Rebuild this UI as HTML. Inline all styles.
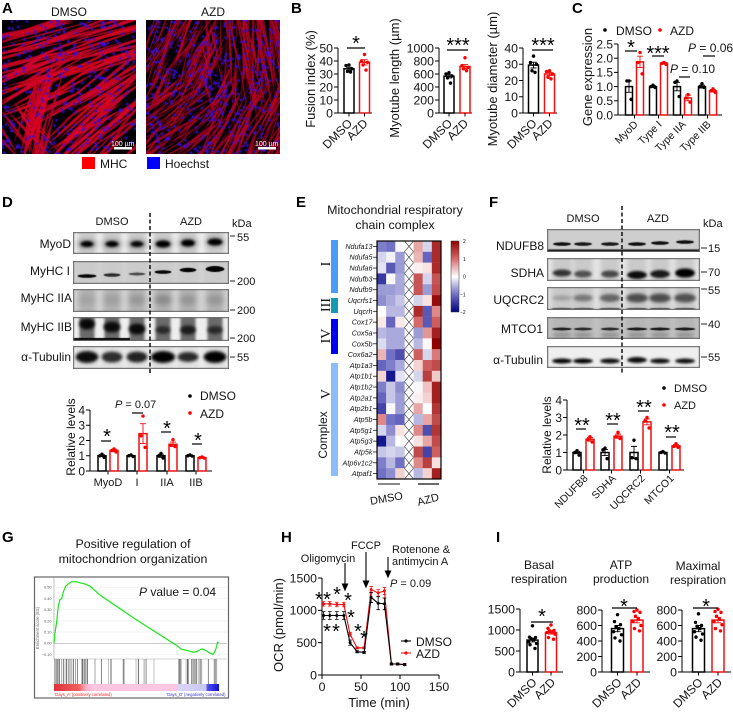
<!DOCTYPE html>
<html lang="en">
<head>
<meta charset="utf-8">
<title>Myotube figure</title>
<style>
html,body{margin:0;padding:0;background:#fff;width:733px;height:713px;overflow:hidden}
#stage{position:relative;width:733px;height:713px}
#stage canvas{position:absolute;z-index:0}
#fig{position:absolute;left:0;top:0;z-index:1}
text{font-family:"Liberation Sans",sans-serif;fill:#141414}
.l{font-size:15px;font-weight:bold;fill:#000}
.t12{font-size:12px}.t11{font-size:11px}.t13{font-size:13px}
.s{font-size:20px;fill:#000}
.it{font-style:italic}
.m{text-anchor:middle}.e{text-anchor:end}
</style>
</head>
<body>
<div id="stage">
<svg id="fig" width="733" height="713" viewBox="0 0 733 713" xmlns="http://www.w3.org/2000/svg">
<defs>
<linearGradient id="cbar" x1="0" y1="0" x2="0" y2="1">
<stop offset="0" stop-color="#8f0000"/><stop offset=".25" stop-color="#d66a6a"/><stop offset=".5" stop-color="#ffffff"/><stop offset=".75" stop-color="#7070c4"/><stop offset="1" stop-color="#00007f"/>
</linearGradient>
<linearGradient id="gsea" x1="0" y1="0" x2="1" y2="0">
<stop offset="0" stop-color="#e03038"/><stop offset=".15" stop-color="#f06060"/><stop offset=".195" stop-color="#f8b0c8"/><stop offset=".24" stop-color="#fbc4e0"/><stop offset=".74" stop-color="#fbc8e4"/><stop offset=".76" stop-color="#d8d4f4"/><stop offset=".92" stop-color="#c8c8f4"/><stop offset=".93" stop-color="#5050e8"/><stop offset="1" stop-color="#1010d8"/>
</linearGradient>
</defs>

<g>
<text class="l" x="2" y="13">A</text>
<text class="l" x="291" y="13">B</text>
<text class="l" x="572" y="13">C</text>
<text class="l" x="2" y="207">D</text>
<text class="l" x="296" y="207">E</text>
<text class="l" x="489" y="207">F</text>
<text class="l" x="2" y="542">G</text>
<text class="l" x="281" y="542">H</text>
<text class="l" x="496" y="542">I</text>
</g>

<g>
<text class="t12 m" x="69" y="16">DMSO</text>
<text class="t12 m" x="213" y="16">AZD</text>
<rect x="114" y="147" width="18" height="2.5" fill="#fff"/>
<text x="111" y="146" style="font-size:7px;fill:#fff">100 µm</text>
<rect x="258" y="147" width="18" height="2.5" fill="#fff"/>
<text x="255" y="146" style="font-size:7px;fill:#fff">100 µm</text>
<rect x="82" y="157" width="13" height="12" fill="#f00"/>
<text class="t12" x="100" y="168">MHC</text>
<rect x="147" y="157" width="13" height="12" fill="#00f"/>
<text class="t12" x="165" y="168">Hoechst</text>
</g>

<g id="pb">
<text class="t13 m" transform="translate(315,79) rotate(-90)">Fusion index (%)</text>
<text class="t13 m" transform="translate(399,78) rotate(-90)">Myotube length (µm)</text>
<text class="t13 m" transform="translate(497,79) rotate(-90)">Myotube diameter (µm)</text>
</g>

<g id="pc">
<text class="t13 m" transform="translate(592,77) rotate(-90)">Gene expression</text>
<circle cx="605" cy="30" r="1.8" fill="#000"/>
<text class="t12" x="616" y="35">DMSO</text>
<circle cx="660" cy="30" r="1.8" fill="#f00"/>
<text class="t12" x="670" y="35">AZD</text>
<text class="t12" x="670" y="73"><tspan class="it">P</tspan> = 0.10</text>
<text class="t12" x="688" y="52"><tspan class="it">P</tspan> = 0.06</text>
</g>

<g id="pd">
<text class="t11 m" x="112" y="225">DMSO</text>
<text class="t11 m" x="191" y="225">AZD</text>
<text class="t11" x="232" y="227">kDa</text>
<text class="t12 e" x="71" y="248">MyoD</text>
<text class="t12 e" x="70" y="275">MyHC I</text>
<text class="t12 e" x="72" y="302">MyHC IIA</text>
<text class="t12 e" x="72" y="331">MyHC IIB</text>
<text class="t12 e" x="71" y="361">α-Tubulin</text>
<path d="M230 236h5M230 281h5M230 310h5M230 338h5M230 357h5" stroke="#222" stroke-width="1"/>
<text class="t11" x="237" y="241">55</text>
<text class="t11" x="237" y="285">200</text>
<text class="t11" x="237" y="314">200</text>
<text class="t11" x="237" y="342">200</text>
<text class="t11" x="237" y="361">55</text>
<line x1="150" y1="213" x2="150" y2="373" stroke="#000" stroke-width="1.4" stroke-dasharray="4 2.5"/>
<text class="t12 m" transform="translate(75,437) rotate(-90)">Relative levels</text>
<text class="t11" x="115" y="408"><tspan class="it">P</tspan> = 0.07</text>
<circle cx="190" cy="396" r="1.8" fill="#000"/>
<text class="t12" x="200" y="400">DMSO</text>
<circle cx="190" cy="413" r="1.8" fill="#f00"/>
<text class="t12" x="200" y="418">AZD</text>
</g>

<g id="pe">
<text class="m" x="395" y="214" style="font-size:12.4px">Mitochondrial respiratory</text>
<text class="m" x="395" y="229" style="font-size:12.4px">chain complex</text>
<rect x="331" y="240" width="7" height="53" fill="#4a9bfa"/>
<rect x="331" y="298" width="7" height="15" fill="#149bb0"/>
<rect x="331" y="319" width="7" height="35" fill="#0000f0"/>
<rect x="331" y="363" width="7" height="113" fill="#8bbdfb"/>
<text transform="translate(330,264) rotate(-90)" class="m" style="font-family:'Liberation Serif',serif;font-size:14px">I</text>
<text transform="translate(330,305) rotate(-90)" class="m" style="font-family:'Liberation Serif',serif;font-size:14px">III</text>
<text transform="translate(330,336) rotate(-90)" class="m" style="font-family:'Liberation Serif',serif;font-size:14px">IV</text>
<text transform="translate(330,394) rotate(-90)" class="m" style="font-family:'Liberation Serif',serif;font-size:14px">V</text>
<text transform="translate(327,435) rotate(-90)" class="t12 m">Complex</text>
<line x1="378" y1="484" x2="400" y2="484" stroke="#444" stroke-width="1.2"/>
<line x1="418" y1="484" x2="439" y2="484" stroke="#111" stroke-width="1.2"/>
<text class="t11 m" transform="translate(387,502) rotate(-10)">DMSO</text>
<text class="t11 m" transform="translate(429,503) rotate(-15)">AZD</text>
</g>

<g id="pf">
<text class="t11 m" x="583" y="222">DMSO</text>
<text class="t11 m" x="658" y="222">AZD</text>
<text class="t11" x="703" y="227">kDa</text>
<text class="t12 e" x="544" y="250">NDUFB8</text>
<text class="t12 e" x="544" y="277">SDHA</text>
<text class="t12 e" x="544" y="304">UQCRC2</text>
<text class="t12 e" x="543" y="333">MTCO1</text>
<text class="t12 e" x="543" y="364">α-Tubulin</text>
<path d="M701 248h6M701 272h6M701 289h6M701 324h6M701 357h6" stroke="#222" stroke-width="1"/>
<text class="t11" x="708" y="252">15</text>
<text class="t11" x="708" y="276">70</text>
<text class="t11" x="708" y="294">55</text>
<text class="t11" x="708" y="328">40</text>
<text class="t11" x="708" y="361">55</text>
<line x1="622" y1="206" x2="622" y2="373" stroke="#000" stroke-width="1.4" stroke-dasharray="4 2.5"/>
<text class="t12 m" transform="translate(551,435) rotate(-90)">Relative levels</text>
<circle cx="664" cy="388" r="1.8" fill="#000"/>
<text class="t11" x="674" y="392">DMSO</text>
<circle cx="664" cy="405" r="1.8" fill="#f00"/>
<text class="t11" x="674" y="409">AZD</text>
</g>

<g id="pg">
<text class="m" x="133" y="548" style="font-size:12.4px">Positive regulation of</text>
<text class="m" x="133" y="563" style="font-size:12.4px">mitochondrion organization</text>
<rect x="34.5" y="577" width="194" height="121" fill="#fff" stroke="#666" stroke-width="1.2"/>
<rect x="54" y="684" width="165" height="7" fill="url(#gsea)"/>
<line x1="54" y1="578" x2="54" y2="659" stroke="#999" stroke-width=".6"/>
<line x1="54" y1="659" x2="227" y2="659" stroke="#aaa" stroke-width=".6"/>
<text class="m" transform="translate(39,628) rotate(-90)" style="font-size:4.2px;fill:#666">Enrichment score (ES)</text>
<text x="54.5" y="696" style="font-size:4.2px;fill:#e22">'Days_A' (positively correlated)</text>
<text class="e" x="225.5" y="696" style="font-size:4.2px;fill:#33c">'Days_D' (negatively correlated)</text>
<text class="t12" x="139" y="596"><tspan class="it">P</tspan> value = 0.04</text>
</g>

<g id="ph">
<text class="t11 m" x="328" y="562">Oligomycin</text>
<text class="t11 m" x="366" y="549">FCCP</text>
<text class="t11" x="392" y="553">Rotenone &amp;</text>
<text class="t11" x="392" y="565">antimycin A</text>
<text class="t11" x="390" y="587"><tspan class="it">P</tspan> = 0.09</text>
<path d="M345 563V586M342.4 584L345 590L347.6 584Z" stroke="#000" stroke-width="1.1" fill="#000"/>
<path d="M366 552V583M363.4 581L366 587L368.6 581Z" stroke="#000" stroke-width="1.1" fill="#000"/>
<path d="M388 557V573M385.4 571L388 577L390.6 571Z" stroke="#000" stroke-width="1.1" fill="#000"/>
<text class="t13 m" transform="translate(283,625) rotate(-90)">OCR (pmol/min)</text>
<text class="t13 m" x="379" y="707">Time (min)</text>
<text class="t12" x="416" y="646">DMSO</text>
<text class="t12" x="416" y="658">AZD</text>
</g>

<g id="pi">
<text class="t12 m" x="539" y="569">Basal</text>
<text class="t12 m" x="539" y="583">respiration</text>
<text class="t12 m" x="621" y="569">ATP</text>
<text class="t12 m" x="621" y="583">production</text>
<text class="t12 m" x="698" y="570">Maximal</text>
<text class="t12 m" x="698" y="584">respiration</text>
</g>
</svg>
</div>

<script>
/* ---------- chart data ---------- */
const treatmentNames = ['DMSO','AZD'];

const fusionMeans = [34,39];
const fusionErrs = [1.2,2];
const fusionPoints = [[37,36.5,34,32,31.5],[45,40,39,37,33]];
const fusionTicks = [0,10,20,30,40,50];

const lengthMeans = [565,715];
const lengthErrs = [25,30];
const lengthPoints = [[620,600,570,540,460],[850,730,700,680,650]];
const lengthTicks = [0,200,400,600,800,1000];

const diameterMeans = [29.5,24];
const diameterErrs = [1.8,1];
const diameterPoints = [[35,31,30,26,25],[26,25.5,24,22,21]];
const diameterTicks = [0,10,20,30,40];

const geneNames = ['MyoD','Type I','Type IIA','Type IIB'];
const geneMeans = [1,1.87,1,1.82,1,0.6,1,0.85];
const geneErrs = [0.2,0.2,0.03,0.03,0.15,0.1,0.05,0.04];
const genePoints = [[1.2,1.2,0.55],[2.2,1.85,1.45],[1.05,1,0.97],[1.85,1.82,1.78],[1.2,1.15,0.65],[0.72,0.6,0.45],[1.1,1,0.97],[0.92,0.85,0.8]];
const geneTicks = [0,0.5,1,1.5,2,2.5];

const dNames = ['MyoD','I','IIA','IIB'];
const dMeans = [1,1.35,1,2.45,1,1.75,1,0.87];
const dErrs = [0.06,0.08,0.03,0.65,0.1,0.15,0.03,0.03];
const dPoints = [[1.1,1,0.9],[1.45,1.35,1.25],[1.05,1,0.95],[3.6,2.3,1.55],[1.15,1,0.85],[2.05,1.7,1.6],[1.05,1,0.98],[0.92,0.87,0.85]];
const relTicks = [0,1,2,3,4];

const fNames = ['NDUFB8','SDHA','UQCRC2','MTCO1'];
const fMeans = [1,1.75,1,1.93,1,2.75,1,1.38];
const fErrs = [0.07,0.1,0.17,0.12,0.35,0.17,0.03,0.07];
const fPoints = [[1.1,1,0.85],[1.9,1.75,1.6],[1.25,1.15,0.65],[2.15,1.9,1.8],[1.7,0.7,0.65],[3,2.8,2.4],[1.05,1,0.97],[1.5,1.35,1.3]];

const basalMeans = [760,940];
const basalErrs = [45,35];
const basalPoints = [[1100,830,820,800,770,720,680,650,560],[1120,1040,990,980,960,940,900,820,780]];
const basalTicks = [0,500,1000,1500];

const atpMeans = [560,670];
const atpErrs = [40,35];
const atpPoints = [[740,650,610,580,560,520,480,440,400],[800,780,770,720,680,650,600,560,530]];
const maxMeans = [560,670];
const maxErrs = [40,35];
const maxPoints = [[750,640,600,590,560,520,490,450,410],[810,780,770,720,680,650,610,560,530]];
const atpTicks = [0,200,400,600,800];

const heatGenes = ['Ndufa13','Ndufa5','Ndufa6','Ndufb3','Ndufb9','Uqcrfs1','Uqcrh','Cox17','Cox5a','Cox5b','Cox6a2','Atp1a3','Atp1b1','Atp1b2','Atp2a1','Atp2b1','Atp5b','Atp5g1','Atp5g3','Atp5k','Atp6v1c2','Atpaf1'];
const heatDmso = [[-0.9,-1,-0.05],[-0.3,-0.1,-0.7],[-0.2,-1.2,-0.7],[-1.5,-0.05,-0.6],[-0.7,-0.7,-0.6],[-0.8,-0.6,-0.4],[0,-0.5,-0.5],[0.15,-1.1,0.15],[-0.5,-0.6,-0.6],[-0.25,-0.6,-0.6],[0.5,-1,-1.3],[-1.1,-0.9,-0.6],[0.3,-1.8,-0.2],[-0.9,-0.4,-0.8],[-1.1,-0.4,-0.7],[-1.4,-0.05,-0.7],[0.8,-1,-1.1],[-0.3,-0.8,0.2],[-1.8,-0.5,0],[-0.4,-0.3,-0.4],[-0.9,-0.5,-1],[-1,-0.8,0.3]];
const heatAzd = [[0.6,-0.3,1.6],[0.5,-1.1,1.6],[0.1,0.2,1.6],[1.2,-0.3,1.2],[1.2,-0.7,1.3],[-0.3,0.2,1.9],[1.6,-1.2,0.8],[1,-1.2,1.1],[-0.7,0.7,1.7],[-0.5,0.05,2],[1.1,-0.3,0.9],[0.3,1.1,1.3],[-0.3,1.4,0.35],[-0.05,0.4,1.7],[0.1,0.3,1.7],[0.6,0,1.5],[-0.5,0.6,1.3],[0.8,-1.3,1.5],[0.2,0.6,1.3],[1.3,-1.4,1.1],[0.8,1.4,0.2],[-0.5,0.3,1.7]];
const heatScaleTicks = [2,1,0,-1,-2];

const gseaRanks = [0,0.6,1.6,2.6,3.6,4.7,5.7,7.1,8.7,10.7,13.4,15.8,18.8,21.9,28,50,74.5,77.5,80.6,84.6,86.6,89.7,91.7,94.7,96.8,98.4,99.4,100];
const gseaScores = [0,0.09,0.19,0.33,0.39,0.4,0.46,0.51,0.53,0.55,0.55,0.54,0.53,0.51,0.43,0.21,-0.02,-0.054,-0.063,-0.08,-0.075,-0.05,-0.06,-0.087,-0.1,-0.045,0.01,0];
const gseaTicks = [-0.1,0,0.1,0.2,0.3,0.4,0.5];
const gseaHits = [0.6,1.6,2,2.6,3.2,4.7,5.7,6.7,7.7,8.7,9.7,10.7,11.7,13,14.2,16.8,17.4,18.2,18.8,19.4,20.2,24.9,28.9,33,34.6,42,42.5,49.8,51.2,54.7,55.9,60.7,75.9,76.5,77.1,80.2,81,81.6,83.6,84.2,85,85.8,86.6,87.6,88.7,89.7,93.7,97.2,97.8,98.8];

const ocrTimes = [2,10,19,28,36,45,54,63,72,80,89,97,106];
const ocrDmso = [920,920,920,920,500,360,350,1200,1110,1100,170,170,160];
const ocrAzd = [1100,1100,1090,1090,630,420,420,1320,1270,1300,170,170,160];
const ocrDmsoErr = [60,60,60,60,40,15,15,80,100,90,15,15,15];
const ocrAzdErr = [35,35,35,35,30,15,15,50,50,55,15,15,15];
const ocrYTicks = [0,500,1000,1500];
const ocrXTicks = [0,50,100,150];

/* ---------- helpers ---------- */
const NS = 'http://www.w3.org/2000/svg';
const DOT_JITTER = [0,-3,3,-1.5,1.5,-4,4,-2.5,2.5];
function node(tag, parent, attrs){
  const e = document.createElementNS(NS, tag);
  for (const k in attrs) e.setAttribute(k, attrs[k]);
  parent.appendChild(e);
  return e;
}
function fmtTick(v, decimals){ return decimals ? v.toFixed(decimals) : String(v); }
function scale(d0,d1,r0,r1){ return v => r0 + (v-d0)/(d1-d0)*(r1-r0); }

function barChart(c){
  const g = node('g', c.parent, {});
  
  
  const y = scale(0, c.ticks[c.ticks.length-1], c.y0, c.yTop);
  const yAxis = node('line', g, {x1:c.ax,x2:c.ax,y1:c.y0+0.5,y2:c.yTop,stroke:'#000','stroke-width':1});
  
  
  const xAxis = node('line', g, {x1:c.ax-4,x2:c.end,y1:c.y0,y2:c.y0,stroke:'#000','stroke-width':1});
  
  
  c.ticks.forEach(function(t){
    const mark = node('line', g, {x1:c.ax-4,x2:c.ax,y1:y(t),y2:y(t),stroke:'#000','stroke-width':1});
    
    
    const lab = node('text', g, {x:c.ax-5,y:y(t)+c.font*0.36,'text-anchor':'end','font-size':c.font});
    
    
    lab.textContent = fmtTick(t, c.decimals);
  });
  c.means.forEach(function(m,i){
    const col = i%2 ? '#f01010' : '#000';
    const cx = c.centers[i];
    const bar = node('rect', g, {x:cx-c.bw/2,y:y(m),width:c.bw,height:c.y0-y(m),fill:'#fff',stroke:col,'stroke-width':1.5});
    
    
    const e = c.errs[i];
    const err = node('path', g, {d:'M'+cx+' '+y(m-e)+'V'+y(m+e)+'M'+(cx-3)+' '+y(m+e)+'h6M'+(cx-3)+' '+y(m-e)+'h6',stroke:col,'stroke-width':0.9,fill:'none'});
    
    
    c.points[i].forEach(function(p,j){
      const dot = node('circle', g, {cx:cx+DOT_JITTER[j%9]*(c.spread||1),cy:y(p),r:c.dot||1.7,fill:i%2?'#f00':'#000'});
      
      
    });
  });
  const step = c.means.length/c.labels.length;
  c.labels.forEach(function(name,k){
    const xs = step===1 ? c.centers[k] : (c.centers[k*2]+c.centers[k*2+1])/2;
    const tick = node('line', g, {x1:xs,x2:xs,y1:c.y0,y2:c.y0+3.5,stroke:'#000','stroke-width':1});
    
    
    const lab = node('text', g, c.flat
      ? {x:xs,y:c.y0+15,'text-anchor':'middle','font-size':c.labelFont}
      : {transform:'translate('+(xs+(c.ldx||4))+','+(c.y0+(c.ldy||11))+') rotate(-45)','text-anchor':'end','font-size':c.labelFont});
    
    
    lab.textContent = name;
  });
}
function sig(parent, x1, x2, y, sx, sy, stars){
  const ln = node('line', parent, {x1:x1,x2:x2,y1:y,y2:y,stroke:'#000','stroke-width':1.2});
  
  
  if (stars){
    const t = node('text', parent, {x:sx,y:sy+11,'text-anchor':'middle',class:'s'});
    
    
    t.textContent = stars;
  }
}

/* ---------- panel B ---------- */
const pb = document.getElementById('pb');
barChart({parent:pb,name:'fusion-index-chart',ax:338,y0:113,yTop:48,end:372,ticks:fusionTicks,font:12.3,centers:[349,364.5],bw:10,means:fusionMeans,errs:fusionErrs,points:fusionPoints,labels:treatmentNames,labelFont:12,ldx:4});
barChart({parent:pb,name:'myotube-length-chart',ax:439,y0:113,yTop:48,end:472,ticks:lengthTicks,font:12.3,centers:[449,465],bw:10,means:lengthMeans,errs:lengthErrs,points:lengthPoints,labels:treatmentNames,labelFont:12,ldx:4});
barChart({parent:pb,name:'myotube-diameter-chart',ax:523,y0:113,yTop:48,end:557,ticks:diameterTicks,font:12.3,centers:[533.5,549.5],bw:10,means:diameterMeans,errs:diameterErrs,points:diameterPoints,labels:treatmentNames,labelFont:12,ldx:4});
sig(pb,347,365,48,356,39,'*');
sig(pb,447,468,50,458,41,'***');
sig(pb,532,553,50,543,41,'***');

/* ---------- panel C ---------- */
const pc = document.getElementById('pc');
barChart({parent:pc,name:'gene-expression-chart',ax:618,y0:115,yTop:44,end:722,ticks:geneTicks,decimals:1,font:12,centers:[629,640,653,664,677,688,702,713],bw:7,means:geneMeans,errs:geneErrs,points:genePoints,labels:geneNames,labelFont:10.5,ldx:4,ldy:10,spread:0.7});
sig(pc,625,637,51,631,43,'*');
sig(pc,652,664,56,658,49,'***');
sig(pc,679,690,77);
sig(pc,703,715,56);

/* ---------- panel D chart ---------- */
const pd = document.getElementById('pd');
barChart({parent:pd,name:'blot-d-relative-levels-chart',ax:90,y0:471,yTop:410,end:212,ticks:relTicks,font:12,centers:[102,114,131,143,161,173,190,202],bw:8,means:dMeans,errs:dErrs,points:dPoints,labels:dNames,labelFont:11,flat:true,spread:0.7});
sig(pd,101,111,441,107,432,'*');
sig(pd,132,143,413);
sig(pd,161,171,432,167,424,'*');
sig(pd,192,202,444,198,436,'*');

/* ---------- panel E ---------- */
const pe = document.getElementById('pe');
const hmX = 377, hmY = 241, cellW = 64/7, cellH = 238/22;
function heatColor(v){
  const stops = [[-2,0,0,127],[-1,112,112,196],[0,255,255,255],[1,214,106,106],[2,143,0,0]];
  const t = Math.max(-2,Math.min(2,v));
  for (let i=0;i<4;i++){
    if (t<=stops[i+1][0]){
      const a=stops[i],b=stops[i+1],f=(t-a[0]);
      return 'rgb('+[1,2,3].map(function(k){return Math.round(a[k]+(b[k]-a[k])*f);}).join(',')+')';
    }
  }
  return '#8f0000';
}
heatGenes.forEach(function(gene,r){
  const y = hmY+r*cellH;
  const label = node('text', pe, {x:372.5,y:y+cellH/2+2.5,'text-anchor':'end','font-size':7.2,'font-style':'italic'});
  
  
  label.textContent = gene;
  const tick = node('line', pe, {x1:373,x2:377,y1:y+cellH/2,y2:y+cellH/2,stroke:'#222','stroke-width':0.8});
  
  
  heatDmso[r].concat([null], heatAzd[r]).forEach(function(v,c){
    const x = hmX+c*cellW;
    if (v===null){
      const cross = node('path', pe, {d:'M'+x+' '+y+'L'+(x+cellW)+' '+(y+cellH)+'M'+(x+cellW)+' '+y+'L'+x+' '+(y+cellH),stroke:'#333','stroke-width':0.6,fill:'none'});
      
      
    } else {
      const cell = node('rect', pe, {x:x,y:y,width:cellW+0.2,height:cellH+0.2,fill:heatColor(v)});
      
      
    }
  });
});
const hmFrame = node('rect', pe, {x:hmX,y:hmY,width:64,height:238,fill:'none',stroke:'#000','stroke-width':1.2});


const cbarRect = node('rect', pe, {x:451,y:241,width:8,height:71,fill:'url(#cbar)',stroke:'#333','stroke-width':0.5});


const cbarY = scale(2,-2,241,312);
heatScaleTicks.forEach(function(v){
  const t = node('text', pe, {x:v<0?460:463,y:cbarY(v)+2,'font-size':5});
  
  
  t.textContent = v<0 ? '\u2212'+(-v) : String(v);
});

/* ---------- panel F chart ---------- */
const pf = document.getElementById('pf');
barChart({parent:pf,name:'blot-f-relative-levels-chart',ax:567,y0:470,yTop:400,end:684,ticks:relTicks,font:12,centers:[577,590,605,618,634,647,663,676],bw:8,means:fMeans,errs:fErrs,points:fPoints,labels:fNames,labelFont:10.5,ldx:5,ldy:9,spread:0.7});
sig(pf,576,586,429,582,421,'**');
sig(pf,607,618,424,613,416,'**');
sig(pf,638,649,411,644,403,'**');
sig(pf,666,676,437,672,428,'**');

/* ---------- panel G ---------- */
const pg = document.getElementById('pg');
const gx = scale(0,100,54,218.7);
const gy = scale(0,0.1,643.3,632.1);
gseaTicks.forEach(function(v){
  const ln = node('line', pg, {x1:54,x2:227,y1:gy(v),y2:gy(v),stroke:v===0?'#aaa':'#eee','stroke-width':0.6});
  
  
  const t = node('text', pg, {x:51.5,y:gy(v)+1.4,'text-anchor':'end','font-size':3.8});
  t.style.fill = '#555';
  
  
  t.textContent = v<0 ? '\u2212'+Math.abs(v).toFixed(2) : v.toFixed(2);
});
gseaHits.forEach(function(r,i){
  const hit = node('line', pg, {x1:gx(r),x2:gx(r),y1:659,y2:684,stroke:'#222','stroke-width':0.8,opacity:[0.85,0.5,0.65,0.35][i%4]});
  
  
});
const esLine = node('polyline', pg, {points:gseaRanks.map(function(r,i){return gx(r)+','+gy(gseaScores[i]);}).join(' '),fill:'none',stroke:'#19e619','stroke-width':1.2});



/* ---------- panel H ---------- */
const ph = document.getElementById('ph');
const hx = scale(0,150,322,439);
const hy = scale(0,1500,675,578);
const hAxes = node('path', ph, {d:'M322 578V675H439',fill:'none',stroke:'#000','stroke-width':1});


ocrYTicks.forEach(function(v){
  const m = node('line', ph, {x1:318,x2:322,y1:hy(v),y2:hy(v),stroke:'#000','stroke-width':1});
  
  
  const t = node('text', ph, {x:317,y:hy(v)+4.4,'text-anchor':'end','font-size':12.3});
  
  
  t.textContent = v;
});
ocrXTicks.forEach(function(v){
  const m = node('line', ph, {x1:hx(v),x2:hx(v),y1:675,y2:679,stroke:'#000','stroke-width':1});
  
  
  const t = node('text', ph, {x:hx(v),y:691,'text-anchor':'middle','font-size':12.3});
  
  
  t.textContent = v;
});
function ocrSeries(vals, errs, col, nm){
  const line = node('polyline', ph, {points:vals.map(function(v,i){return hx(ocrTimes[i])+','+hy(v);}).join(' '),fill:'none',stroke:col,'stroke-width':1.1});
  
  
  vals.forEach(function(v,i){
    const x = hx(ocrTimes[i]);
    const err = node('path', ph, {d:'M'+x+' '+hy(v-errs[i])+'V'+hy(v+errs[i])+'M'+(x-1.8)+' '+hy(v+errs[i])+'h3.6M'+(x-1.8)+' '+hy(v-errs[i])+'h3.6',stroke:col,'stroke-width':0.8,fill:'none'});
    
    
    const p = node('circle', ph, {cx:x,cy:hy(v),r:1.5,fill:col});
    
    
  });
}
ocrSeries(ocrAzd, ocrAzdErr, '#f01010', 'ocr-azd');
ocrSeries(ocrDmso, ocrDmsoErr, '#000', 'ocr-dmso');
[[319,595],[327,595],[337,590],[348,596],[351,613],[327,627],[336,627],[358,627],[364,634]].forEach(function(s){
  const t = node('text', ph, {x:s[0],y:s[1]+11,'text-anchor':'middle',class:'s'});
  
  
  t.textContent = '*';
});
[[641,'#000'],[653,'#f01010']].forEach(function(l){
  const ln = node('line', ph, {x1:401,x2:411,y1:l[0],y2:l[0],stroke:l[1],'stroke-width':1.1});
  
  
  const d = node('circle', ph, {cx:406,cy:l[0],r:1.6,fill:l[1]});
  
  
});

/* ---------- panel I ---------- */
const pi = document.getElementById('pi');
barChart({parent:pi,name:'basal-respiration-chart',ax:520,y0:672,yTop:609,end:563,ticks:basalTicks,font:12.3,centers:[532.5,551],bw:11,means:basalMeans,errs:basalErrs,points:basalPoints,labels:treatmentNames,labelFont:12,ldx:5,ldy:11});
barChart({parent:pi,name:'atp-production-chart',ax:602,y0:672,yTop:610,end:650,ticks:atpTicks,font:12.3,centers:[617.5,637],bw:12,means:atpMeans,errs:atpErrs,points:atpPoints,labels:treatmentNames,labelFont:12,ldx:5,ldy:11});
barChart({parent:pi,name:'maximal-respiration-chart',ax:682,y0:672,yTop:610,end:731,ticks:atpTicks,font:12.3,centers:[698.5,718],bw:12,means:maxMeans,errs:maxErrs,points:maxPoints,labels:treatmentNames,labelFont:12,ldx:5,ldy:11});
sig(pi,531,553,622,542,612,'*');
sig(pi,612,637,608,624,602,'*');
sig(pi,693,718,608,706,602,'*');

/* ---------- raster-like images drawn on canvases ---------- */
const stage = document.getElementById('stage');
function addCanvas(x,y,w,h){
  const c = document.createElement('canvas');
  c.width = w; c.height = h;
  c.style.left = x+'px'; c.style.top = y+'px';
  stage.insertBefore(c, stage.firstChild);
  return c;
}
function lcg(seed){ let s = seed; return function(){ s = (s*1664525+1013904223)%4294967296; return s/4294967296; }; }
function spindle(ctx,x,y,a,len,w){
  const dx=Math.cos(a)*len/2, dy=Math.sin(a)*len/2, nx=-Math.sin(a)*w/2, ny=Math.cos(a)*w/2;
  ctx.beginPath();
  ctx.moveTo(x-dx,y-dy);
  ctx.quadraticCurveTo(x+nx,y+ny,x+dx,y+dy);
  ctx.quadraticCurveTo(x-nx,y-ny,x-dx,y-dy);
  ctx.fill();
}
function micrograph(ctx, size, sets, seed, dots, rBase){
  const R = lcg(seed);
  ctx.fillStyle = '#020005';
  ctx.fillRect(0,0,size,size);
  sets.forEach(function(s){
    for (let i=0;i<s.n;i++){
      const x=s.x0+R()*(s.x1-s.x0), y=s.y0+R()*(s.y1-s.y0);
      const a=(s.a+(R()-0.5)*s.da)*Math.PI/180;
      const r=rBase+Math.floor(R()*40);
      ctx.fillStyle='rgba('+r+','+Math.floor(R()*6)+','+(25+Math.floor(R()*25))+',0.92)';
      spindle(ctx,x,y,a,s.l*(0.7+R()*0.7),s.w*(0.6+R()*0.9));
    }
  });
  const R2 = lcg(seed+7);
  for (let i=0;i<dots;i++){
    const x=R2()*size,y=R2()*size;
    ctx.fillStyle='rgba(90,20,200,0.4)';
    ctx.beginPath();ctx.arc(x,y,1.8,0,7);ctx.fill();
    ctx.fillStyle='rgba(30,15,250,0.95)';
    ctx.beginPath();ctx.arc(x,y,0.9,0,7);ctx.fill();
  }
}
const cvA1 = addCanvas(2,20,134,134);


micrograph(cvA1.getContext('2d'),134,[
  {n:44,x0:-10,x1:140,y0:0,y1:58,a:-18,da:18,l:90,w:5.5},
  {n:20,x0:-5,x1:60,y0:45,y1:90,a:-25,da:18,l:70,w:5.5},
  {n:30,x0:50,x1:140,y0:50,y1:110,a:-35,da:16,l:80,w:5},
  {n:23,x0:60,x1:140,y0:90,y1:140,a:-48,da:16,l:70,w:4.5},
  {n:18,x0:25,x1:60,y0:80,y1:140,a:-76,da:18,l:70,w:6.5},
  {n:10,x0:0,x1:40,y0:100,y1:140,a:50,da:18,l:45,w:4.5}
],12345,340,185);
const cvA2 = addCanvas(146,20,134,134);


micrograph(cvA2.getContext('2d'),134,[
  {n:85,x0:0,x1:70,y0:0,y1:70,a:-65,da:28,l:50,w:2.7},
  {n:95,x0:60,x1:140,y0:-5,y1:75,a:-95,da:24,l:55,w:2.9},
  {n:85,x0:0,x1:70,y0:65,y1:140,a:-42,da:30,l:42,w:2.5},
  {n:90,x0:60,x1:140,y0:65,y1:140,a:-62,da:24,l:50,w:2.9}
],67890,440,160);

function drawBlot(nm, x,y,w,h,bg,bands,extras){
  const c = addCanvas(x,y,w,h);
  
  
  const ctx = c.getContext('2d');
  ctx.fillStyle = bg;
  ctx.fillRect(0,0,w,h);
  bands.forEach(function(b){
    if (b.halo){
      ctx.filter='blur('+(b.laneBlur||2)+'px)';
      ctx.fillStyle='rgba(0,0,0,'+b.halo+')';
      ctx.fillRect(b.x-(b.lane||b.w)/2,-4,(b.lane||b.w),h+8);
    }
    ctx.filter='blur('+(b.blur||1.2)+'px)';
    ctx.fillStyle='rgba(0,0,0,'+b.a+')';
    ctx.beginPath();
    ctx.ellipse(b.x,b.y,b.w/2,b.h/2,0,0,7);
    ctx.fill();
  });
  ctx.filter='none';
  if (extras) extras(ctx,w,h);
  ctx.strokeStyle='#6a6a6a';
  ctx.lineWidth=1.2;
  ctx.strokeRect(0.5,0.5,w-1,h-1);
}
function bandRow(xs,yy,ww,hh,aa,extra){
  return xs.map(function(x,i){
    const b = {x:x,y:Array.isArray(yy)?yy[i]:yy,w:Array.isArray(ww)?ww[i]:ww,h:Array.isArray(hh)?hh[i]:hh,a:Array.isArray(aa)?aa[i]:aa};
    if (extra) { b.blur=extra.blur; b.halo=extra.halo; b.lane=extra.lane; b.laneBlur=extra.laneBlur; }
    return b;
  });
}
const dX = [14,39,64,90,115,142];
drawBlot('blot-myod',73,232,156,22,'#ededed',
  bandRow(dX,[12,12,12,12,11,10],20,9,0.3,{blur:2.5,halo:0.13,lane:18}).concat(bandRow(dX,[12,12,12,12,11,10],[13,13,13,15,14,15],[6,6,6,7,7,7],[1,1,0.95,1,1,1],{blur:1})));
drawBlot('blot-myhc-i',73,261,156,23,'#d2d2d2',
  bandRow(dX,[15,14,13,11,9,8],[19,17,17,17,17,19],[3.5,3.5,3,3.5,4.5,6],[1,0.8,0.65,1,1,1],{blur:0.7,halo:0.03,lane:20}));
drawBlot('blot-myhc-iia',73,289,156,23,'#d0d0d0',
  bandRow(dX,11,[18,18,18,18,18,18],10,[0.08,0.1,0.15,0.22,0.16,0.16],{blur:2.5,halo:0.14,lane:17}));
drawBlot('blot-myhc-iib',73,317,156,24,'#eeeeee',
  bandRow(dX,[7,10,12,13,13,13],[16,17,17,15,16,16],[11,11,11,8,9,8],[0.92,0.9,0.9,0.62,0.75,0.62],{blur:1.5,halo:0.55,lane:15,laneBlur:0.9}),
  function(ctx){ ctx.fillStyle='#000'; ctx.fillRect(0,21,57,2); });
drawBlot('blot-d-tubulin',73,346,156,23,'#f0f0f0',
  bandRow(dX,11,[23,21,21,24,21,23],[12,11,11,12,10,12],[0.95,0.8,0.85,1,0.82,1],{blur:1.5,halo:0.06,lane:22}));
const fX = [15,36,63,90,113,138];
drawBlot('blot-ndufb8',547,229,153,23,'#cecece',
  bandRow(fX,[15,15,15,15,14,13],18,3.5,[0.95,0.9,0.9,0.95,0.95,0.95],{blur:0.7}),
  function(ctx,w){ ctx.fillStyle='#000'; ctx.fillRect(0,20.5,w,2.5); });
drawBlot('blot-sdha',547,258,153,23,'#e6e6e6',
  bandRow(fX,[15,16,16,17,16,15],[19,18,18,20,20,20],[7,7,7,8,8,9],[0.75,0.6,0.65,0.95,0.88,1],{blur:1.3,halo:0.12,lane:19}));
drawBlot('blot-uqcrc2',547,287,153,23,'#e0e0e0',
  bandRow(fX,11,[20,20,21,22,22,22],[5,7,8,9,9,9],[0.22,0.4,0.5,0.62,0.62,0.6],{blur:1.4,halo:0.1,lane:20}).concat(bandRow(fX,21.5,22,1.5,0.6,{blur:0.6})));
drawBlot('blot-mtco1',547,317,153,22,'#c2c2c2',
  bandRow(fX,12,[20,19,19,21,21,21],3,[0.85,0.8,0.8,0.9,0.9,0.9],{blur:0.7,halo:0.06,lane:20}).concat(bandRow(fX,18,18,5,0.18,{blur:1.5})));
drawBlot('blot-f-tubulin',547,346,153,22,'#efefef',
  bandRow(fX,[15,15,15,14,15,15],[20,20,20,20,20,20],[5,5,5,6,5,5],[1,1,0.95,0.95,0.95,0.95],{blur:0.8}));
</script>
</body>
</html>
